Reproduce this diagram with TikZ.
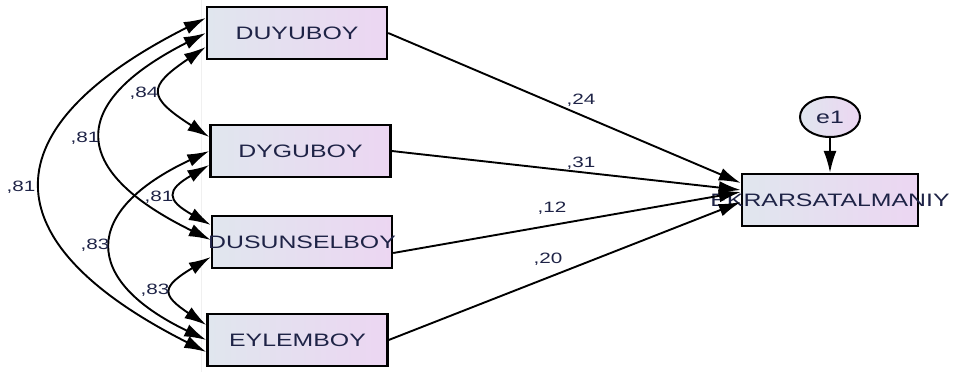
\documentclass[tikz,border=0pt]{standalone}
\usepackage{graphicx}
\usepackage{fontspec}
\setmainfont{Liberation Sans}
\usetikzlibrary{arrows.meta, shapes.geometric}
\definecolor{boxl}{RGB}{224,230,238}
\definecolor{boxr}{RGB}{236,214,242}
\definecolor{txt}{RGB}{30,35,70}
\newcommand{\wtxt}[1]{\makebox[0pt]{\scalebox{1.38}[1]{#1}}}

\begin{document}
\begin{tikzpicture}[x=1pt, y=-1pt, line width=1.9pt,
  >={Latex[length=22pt,width=13pt]},
  var/.style = {draw, line width=2.4pt, left color=boxl, right color=boxr,
    minimum width=180pt, minimum height=52pt, inner sep=0pt,
    text=txt, font=\fontsize{18}{18}\selectfont},
  err/.style = {ellipse, draw, line width=2pt, left color=boxl, right color=boxr,
    minimum width=60pt, minimum height=40pt, inner sep=0pt,
    text=txt, font=\fontsize{18}{18}\selectfont},
  lbl/.style = {inner sep=0pt, text=txt, font=\fontsize{15}{15}\selectfont}]

  \useasboundingbox (0,0) rectangle (958,372);
  \draw[gray!12, line width=0.8pt] (201,0) -- (201,372);

  \node[var] (duyu) at (297,33) {\wtxt{DUYUBOY}};
  \node[var] (dygu) at (300.5,151) {\wtxt{DYGUBOY}};
  \node[var] (dusun) at (302,242) {\wtxt{DUSUNSELBOY}};
  \node[var] (eylem) at (297.5,340) {\wtxt{EYLEMBOY}};
  \node[var, minimum width=176pt] (tekrar) at (830,200) {\wtxt{EKRARSATALMANIY}};
  \node[err] (e1) at (830,117) {\wtxt{e1}};

  \draw[<->] ([yshift=15pt]duyu.west) .. controls +(-218,110) and +(-218,-110) .. ([yshift=-12pt]eylem.west);
  \draw[<->] (duyu.west) .. controls +(-138,70) and +(-143,-70) .. ([yshift=2pt]dusun.west);
  \draw[<->] ([yshift=-14pt]duyu.west) .. controls +(-59,40) and +(-62,-40) .. ([yshift=14pt]dygu.west);
  \draw[<->] (dygu.west) .. controls +(-128,60) and +(-125,-60) .. (eylem.west);
  \draw[<->] ([yshift=-14pt]dygu.west) .. controls +(-43,25) and +(-45,-25) .. ([yshift=17pt]dusun.west);
  \draw[<->] ([yshift=-15pt]dusun.west) .. controls +(-50,30) and +(-45,-30) .. ([yshift=15pt]eylem.west);

  \draw[->] (duyu.east) -- ([yshift=17pt]tekrar.west);
  \draw[->] (dygu.east) -- ([yshift=10pt]tekrar.west);
  \draw[->] ([yshift=-11pt]dusun.east) -- ([yshift=8pt]tekrar.west);
  \draw[->] (eylem.east) -- ([yshift=-2pt]tekrar.west);
  \draw[->] (e1) -- (tekrar);

  \node[lbl] (l1) at (144,93) {\scalebox{1.38}[1]{,84}};
  \node[lbl] (l2) at (85,138) {\scalebox{1.38}[1]{,81}};
  \node[lbl] (l3) at (21,187) {\scalebox{1.38}[1]{,81}};
  \node[lbl] (l4) at (159,197) {\scalebox{1.38}[1]{,81}};
  \node[lbl] (l5) at (95,245) {\scalebox{1.38}[1]{,83}};
  \node[lbl] (l6) at (155,290) {\scalebox{1.38}[1]{,83}};
  \node[lbl] (l7) at (581,100) {\scalebox{1.38}[1]{,24}};
  \node[lbl] (l8) at (581,163) {\scalebox{1.38}[1]{,31}};
  \node[lbl] (l9) at (552,208) {\scalebox{1.38}[1]{,12}};
  \node[lbl] (l10) at (548,259) {\scalebox{1.38}[1]{,20}};
\end{tikzpicture}
\end{document}
